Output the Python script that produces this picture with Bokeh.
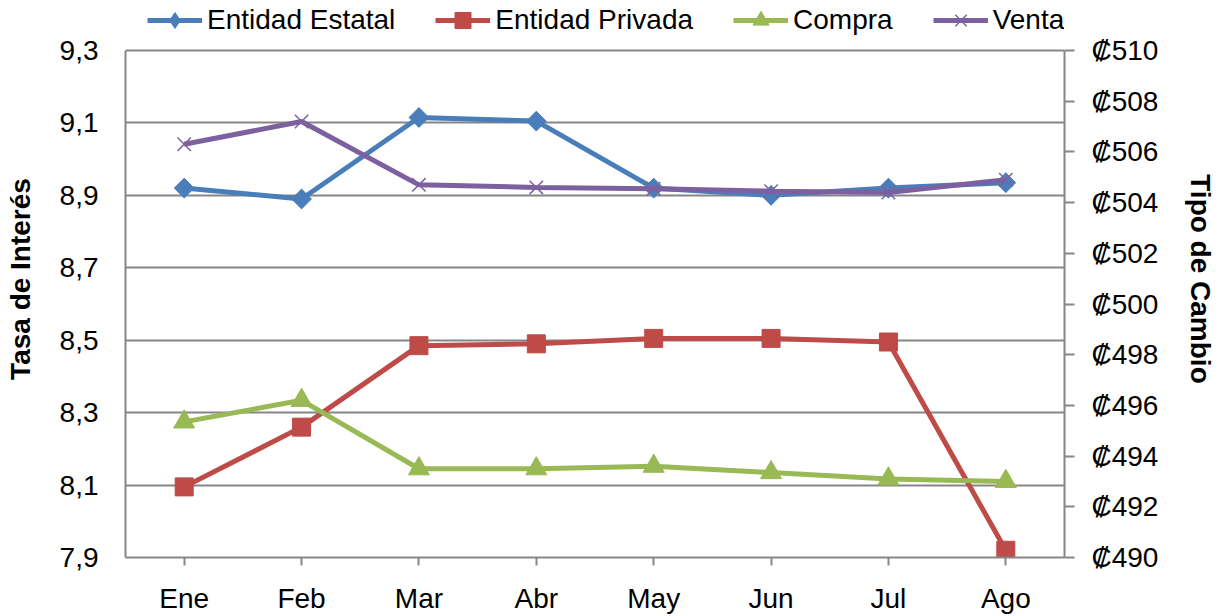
from bokeh.plotting import figure
from bokeh.models import (Range1d, LinearAxis, FixedTicker, CustomJSTickFormatter,
                          Legend, LegendItem, FactorRange)
from bokeh.embed import file_html
from bokeh.resources import INLINE
import math

months = ["Ene", "Feb", "Mar", "Abr", "May", "Jun", "Jul", "Ago"]
estatal = [8.92, 8.89, 9.115, 9.105, 8.92, 8.90, 8.92, 8.935]
privada = [8.095, 8.26, 8.485, 8.49, 8.505, 8.505, 8.495, 7.92]
compra = [495.35, 496.2, 493.5, 493.5, 493.6, 493.35, 493.1, 493.0]
venta = [506.3, 507.2, 504.7, 504.6, 504.55, 504.45, 504.4, 504.9]

left_ticks = [7.9, 8.1, 8.3, 8.5, 8.7, 8.9, 9.1, 9.3]
right_ticks = [490, 492, 494, 496, 498, 500, 502, 504, 506, 508, 510]
left_lim = (7.9, 9.3)
right_lim = (490, 510)

BLUE = "#4A7EBB"
RED = "#BE4B48"
GREEN = "#98B954"
PURPLE = "#7D60A0"
GRID = "#868686"
FONT = "Liberation Sans"

# frame reaches the top of the canvas so the legend (drawn inside it) sits above the axes box
FRAME_H = 557
AXIS_H = 507
ext = (FRAME_H - AXIS_H) / AXIS_H
y_end_left = left_lim[1] + (left_lim[1] - left_lim[0]) * ext
y_end_right = right_lim[1] + (right_lim[1] - right_lim[0]) * ext

p = figure(width=1221, height=616, x_range=FactorRange(*months),
           y_range=Range1d(left_lim[0], y_end_left), output_backend="svg",
           toolbar_location=None, min_border_left=125, min_border_right=157,
           min_border_top=0, min_border_bottom=59)
p.extra_y_ranges = {"tc": Range1d(right_lim[0], y_end_right)}

p.outline_line_color = None
p.xgrid.grid_line_color = None
p.ygrid.grid_line_color = GRID
p.ygrid.grid_line_width = 2
p.ygrid.ticker = FixedTicker(ticks=left_ticks)

# left axis
ya = p.yaxis[0]
ya.bounds = left_lim
ya.ticker = FixedTicker(ticks=left_ticks)
ya.formatter = CustomJSTickFormatter(code="return tick.toFixed(1).replace('.', ',');")
ya.axis_line_color = GRID
ya.axis_line_width = 2
ya.major_tick_line_color = None
ya.minor_tick_line_color = None
ya.major_label_text_font = FONT
ya.major_label_text_font_size = "28px"
ya.major_label_text_color = "black"
ya.major_label_standoff = 21
ya.axis_label = "Tasa de Interés"
ya.axis_label_text_font = FONT
ya.axis_label_text_font_style = "bold"
ya.axis_label_text_font_size = "28px"
ya.axis_label_text_color = "black"
ya.axis_label_standoff = 21

# right axis
ra = LinearAxis(y_range_name="tc", ticker=FixedTicker(ticks=right_ticks),
                formatter=CustomJSTickFormatter(code="return '\u20a1' + tick.toFixed(0);"))
ra.bounds = right_lim
ra.axis_line_color = GRID
ra.axis_line_width = 2
ra.major_tick_line_color = GRID
ra.major_tick_line_width = 2
ra.major_tick_out = 10
ra.major_tick_in = 0
ra.minor_tick_line_color = None
ra.major_label_text_font = FONT
ra.major_label_text_font_size = "28px"
ra.major_label_text_color = "black"
ra.major_label_standoff = 17
ra.axis_label = "Tipo de Cambio"
ra.axis_label_text_font = FONT
ra.axis_label_text_font_style = "bold"
ra.axis_label_text_font_size = "28px"
ra.axis_label_text_color = "black"
ra.axis_label_standoff = 24
p.add_layout(ra, "right")

# x axis
xa = p.xaxis[0]
xa.axis_line_color = GRID
xa.axis_line_width = 2
xa.major_tick_line_color = GRID
xa.major_tick_line_width = 2
xa.major_tick_out = 8
xa.major_tick_in = 0
xa.major_label_text_font = FONT
xa.major_label_text_font_size = "28px"
xa.major_label_text_color = "black"
xa.major_label_standoff = 17

lw = 5
l1 = p.line(months, estatal, line_color=BLUE, line_width=lw)
# diamond under the rotated square: gives the legend a diamond glyph
d1 = p.scatter(months, estatal, marker="diamond", size=19, fill_color=BLUE, line_color=BLUE)
s1 = p.scatter(months, estatal, marker="square", angle=math.pi / 4, size=14,
               fill_color=BLUE, line_color=BLUE)
l2 = p.line(months, privada, line_color=RED, line_width=lw)
s2 = p.scatter(months, privada, marker="square", size=18, fill_color=RED, line_color=RED)
l3 = p.line(months, compra, line_color=GREEN, line_width=lw, y_range_name="tc")
s3 = p.scatter(months, compra, marker="triangle", size=21, fill_color=GREEN,
               line_color=GREEN, y_range_name="tc")
l4 = p.line(months, venta, line_color=PURPLE, line_width=lw, y_range_name="tc")
s4 = p.scatter(months, venta, marker="x", size=19, line_color=PURPLE, line_width=1.5,
               y_range_name="tc")

legend = Legend(items=[
    LegendItem(label="Entidad Estatal", renderers=[l1, d1]),
    LegendItem(label="Entidad Privada", renderers=[l2, s2]),
    LegendItem(label="Compra", renderers=[l3, s3]),
    LegendItem(label="Venta", renderers=[l4, s4]),
], orientation="horizontal", location=(22, 517))
legend.label_text_font = FONT
legend.label_text_font_size = "28px"
legend.label_text_color = "black"
legend.glyph_width = 55
legend.glyph_height = 40
legend.label_standoff = 5
legend.spacing = 40
legend.padding = 0
legend.margin = 0
legend.border_line_color = None
legend.background_fill_alpha = 0
legend.label_height = 40
p.add_layout(legend, "center")

open("out.html", "w").write(file_html(p, INLINE))
